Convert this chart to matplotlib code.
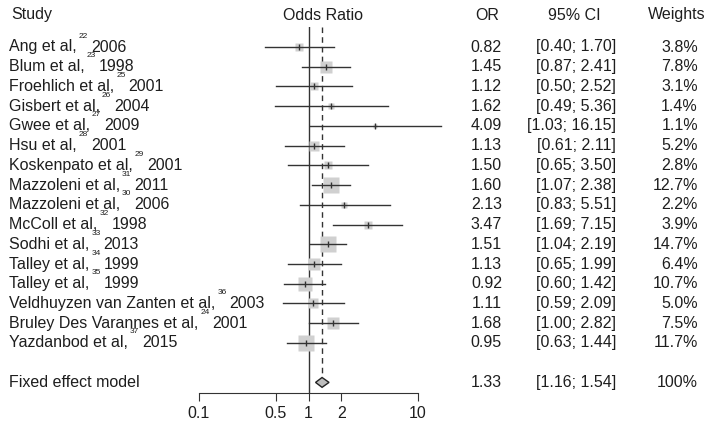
import matplotlib.pyplot as plt
import matplotlib.transforms as mtransforms
import numpy as np

plt.rcParams['font.family'] = ['Liberation Sans', 'DejaVu Sans']

authors = ["Ang et al,", "Blum et al,", "Froehlich et al,", "Gisbert et al,", "Gwee et al,",
           "Hsu et al,", "Koskenpato et al,", "Mazzoleni et al,", "Mazzoleni et al,",
           "McColl et al,", "Sodhi et al,", "Talley et al,", "Talley et al,",
           "Veldhuyzen van Zanten et al,", "Bruley Des Varannes et al,", "Yazdanbod et al,"]
refs = ["22", "23", "25", "26", "27", "28", "29", "31", "30", "32", "33", "34", "35", "36", "24", "37"]
years = ["2006", "1998", "2001", "2004", "2009", "2001", "2001", "2011", "2006",
         "1998", "2013", "1999", "1999", "2003", "2001", "2015"]
odds = [0.82, 1.45, 1.12, 1.62, 4.09, 1.13, 1.50, 1.60, 2.13, 3.47, 1.51, 1.13, 0.92, 1.11, 1.68, 0.95]
lower = [0.40, 0.87, 0.50, 0.49, 1.03, 0.61, 0.65, 1.07, 0.83, 1.69, 1.04, 0.65, 0.60, 0.59, 1.00, 0.63]
upper = [1.70, 2.41, 2.52, 5.36, 16.15, 2.11, 3.50, 2.38, 5.51, 7.15, 2.19, 1.99, 1.42, 2.09, 2.82, 1.44]
weights = [3.8, 7.8, 3.1, 1.4, 1.1, 5.2, 2.8, 12.7, 2.2, 3.9, 14.7, 6.4, 10.7, 5.0, 7.5, 11.7]
fixed_or, fixed_lo, fixed_hi = 1.33, 1.16, 1.54
xticks = [0.1, 0.5, 1, 2, 10]

W, H = 714, 425
fig = plt.figure(figsize=(W / 100, H / 100), dpi=100)
# axes placed so 0.1 -> px 199, 10 -> px 418, bottom line at px 393
ax = fig.add_axes([199 / W, 1 - 393 / H, 219 / W, (393 - 27) / H])
ax.set_xscale('log')
ax.set_xlim(0.1, 10)
row0, dy = 47, 19.73
ax.set_ylim((393 - row0) / dy, (27 - row0) / dy)

txt = '#1e1e1e'
line_c = '#333333'
fs = 11.5

n = len(odds)
rows = np.arange(n)
fixed_row = n + 1

for i in range(n):
    ax.plot([lower[i], upper[i]], [rows[i], rows[i]], color=line_c, lw=1.0, clip_on=False, zorder=2)
    side = 4.4 * np.sqrt(weights[i])
    ax.plot(odds[i], rows[i], marker='s', ms=side * 0.72, color='#d0d0d0', mec='none', zorder=1, clip_on=False)
    ax.plot(odds[i], rows[i], marker='|', ms=4, color=line_c, mew=1.0, zorder=3)

ax.axvline(1, color=line_c, lw=1.0, zorder=0)
ax.vlines(fixed_or, ax.get_ylim()[1], fixed_row - 0.25, colors=line_c, linestyles=(0, (4, 3)), lw=1.0, zorder=0)
ax.fill([fixed_lo, fixed_or, fixed_hi, fixed_or], [fixed_row, fixed_row - 0.25, fixed_row, fixed_row + 0.25],
        facecolor='#bdbdbd', edgecolor='#222222', lw=1.0, zorder=3)

for s in ['top', 'left', 'right']:
    ax.spines[s].set_visible(False)
ax.spines['bottom'].set_color(line_c)
ax.set_xticks(xticks)
ax.set_xticklabels([str(t) for t in xticks])
ax.minorticks_off()
ax.set_yticks([])
ax.tick_params(axis='x', length=6, color=line_c, labelsize=fs, labelcolor=txt, pad=3)

tr = mtransforms.blended_transform_factory(fig.transFigure, ax.transData)
hdr = (15 - row0) / dy
ax.text(11 / W, hdr, "Study", transform=tr, ha='left', va='center', fontsize=fs, color=txt)
ax.text(323 / W, hdr, "Odds Ratio", transform=tr, ha='center', va='center', fontsize=fs, color=txt)
ax.text(487 / W, hdr, "OR", transform=tr, ha='center', va='center', fontsize=fs, color=txt)
ax.text(574 / W, hdr, "95% CI", transform=tr, ha='center', va='center', fontsize=fs, color=txt)
ax.text(677 / W, hdr, "Weights", transform=tr, ha='center', va='center', fontsize=fs, color=txt)

renderer = fig.canvas.get_renderer()
for i in range(n):
    # name, then the small reference number raised, then the year
    t1 = ax.text(9 / W, rows[i], authors[i], transform=tr, ha='left', va='center', fontsize=fs, color=txt)
    x_end = t1.get_window_extent(renderer).x1
    sup_off = mtransforms.offset_copy(tr, fig=fig, x=x_end - 9 + 2, y=11, units='dots')
    t2 = ax.text(9 / W, rows[i], refs[i], transform=sup_off, ha='left', va='center', fontsize=6, color=txt)
    x_end2 = t2.get_window_extent(renderer).x1
    yr_off = mtransforms.offset_copy(tr, fig=fig, x=x_end2 - 9 + 3, y=0, units='dots')
    ax.text(9 / W, rows[i], years[i], transform=yr_off, ha='left', va='center', fontsize=fs, color=txt)
    ax.text(502 / W, rows[i], "%.2f" % odds[i], transform=tr, ha='right', va='center', fontsize=fs, color=txt)
    ax.text(616 / W, rows[i], "[%.2f; %.2f]" % (lower[i], upper[i]), transform=tr, ha='right', va='center', fontsize=fs, color=txt)
    ax.text(698 / W, rows[i], "%.1f%%" % weights[i], transform=tr, ha='right', va='center', fontsize=fs, color=txt)

ax.text(9 / W, fixed_row, "Fixed effect model", transform=tr, ha='left', va='center', fontsize=fs, color=txt)
ax.text(502 / W, fixed_row, "%.2f" % fixed_or, transform=tr, ha='right', va='center', fontsize=fs, color=txt)
ax.text(616 / W, fixed_row, "[%.2f; %.2f]" % (fixed_lo, fixed_hi), transform=tr, ha='right', va='center', fontsize=fs, color=txt)
ax.text(698 / W, fixed_row, "100%", transform=tr, ha='right', va='center', fontsize=fs, color=txt)

fig.savefig("out.png", dpi=100)
